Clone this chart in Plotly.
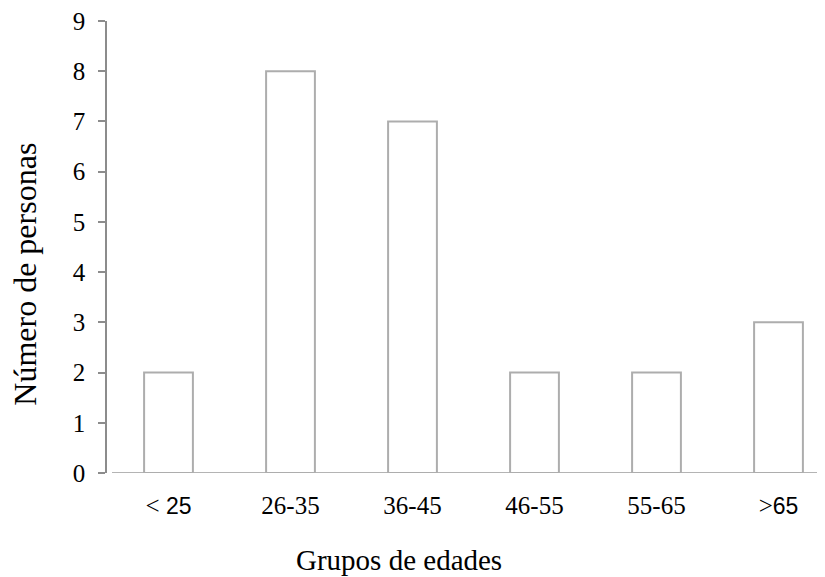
import plotly.graph_objects as go

categories = ["< 25", "26-35", "36-45", "46-55", "55-65", ">65"]
tick_labels = [
    "&lt; <span style='font-family:Liberation Sans;font-size:23px'>25</span>",
    "26-35", "36-45", "46-55", "55-65",
    "&gt;<span style='font-family:Liberation Sans;font-size:23px'>65</span>",
]
values = [2, 8, 7, 2, 2, 3]
y_ticks = list(range(0, 10))

# the page shows the figure with an 8px body margin
OFF = 8
W, H = 825 - OFF, 577 - OFF
L, R, T, B = 107 - OFF, 0, 16 - OFF, 104
pw, ph = W - L - R, H - T - B
step = 122.0
first_center = 168.5 - OFF
x_lo = -(first_center - L) / step
x_hi = (W - R - first_center) / step

def px_to_paper_x(px):
    return (px - OFF - L) / pw

def px_to_paper_y(py):
    return (H - B - (py - OFF)) / ph

xs = list(range(len(categories)))

fig = go.Figure()
fig.add_trace(go.Bar(
    x=xs, y=values, width=0.40,
    marker=dict(color="white", line=dict(color="#ADADAD", width=2)),
    hoverinfo="skip",
))

fig.update_layout(
    width=W, height=H,
    margin=dict(l=L, r=R, t=T, b=B, pad=0),
    plot_bgcolor="white", paper_bgcolor="white",
    showlegend=False,
    font=dict(family="Liberation Serif, Times New Roman, serif", size=25, color="black"),
    xaxis=dict(
        range=[x_lo, x_hi], tickvals=xs, ticktext=tick_labels,
        showline=False, showgrid=False, zeroline=False, ticks="",
        ticklabelstandoff=15, ticklabeloverflow="allow",
        tickfont=dict(size=25),
    ),
    yaxis=dict(
        range=[0, 9], tickvals=y_ticks, showgrid=False, zeroline=False,
        showline=True, linecolor="#8C8C8C", linewidth=1.5,
        ticks="outside", ticklen=7, tickcolor="#8C8C8C", tickwidth=1.5,
        ticklabelstandoff=8, ticklabeloverflow="allow",
        tickfont=dict(size=25),
    ),
    shapes=[dict(
        type="line", xref="x domain", yref="y",
        x0=(112 - OFF - L) / pw, x1=1, y0=0, y1=0,
        line=dict(color="#B4B4B4", width=2), layer="below",
    )],
    annotations=[
        dict(text="Grupos de edades", xref="paper", yref="paper",
             x=px_to_paper_x(399), y=px_to_paper_y(561),
             xanchor="center", yanchor="middle", showarrow=False,
             font=dict(size=29)),
        dict(text="Número de personas", xref="paper", yref="paper",
             x=px_to_paper_x(25.5), y=px_to_paper_y(272),
             xanchor="center", yanchor="middle", showarrow=False,
             textangle=-90, font=dict(size=32)),
    ],
)

fig.write_html("out.html")
